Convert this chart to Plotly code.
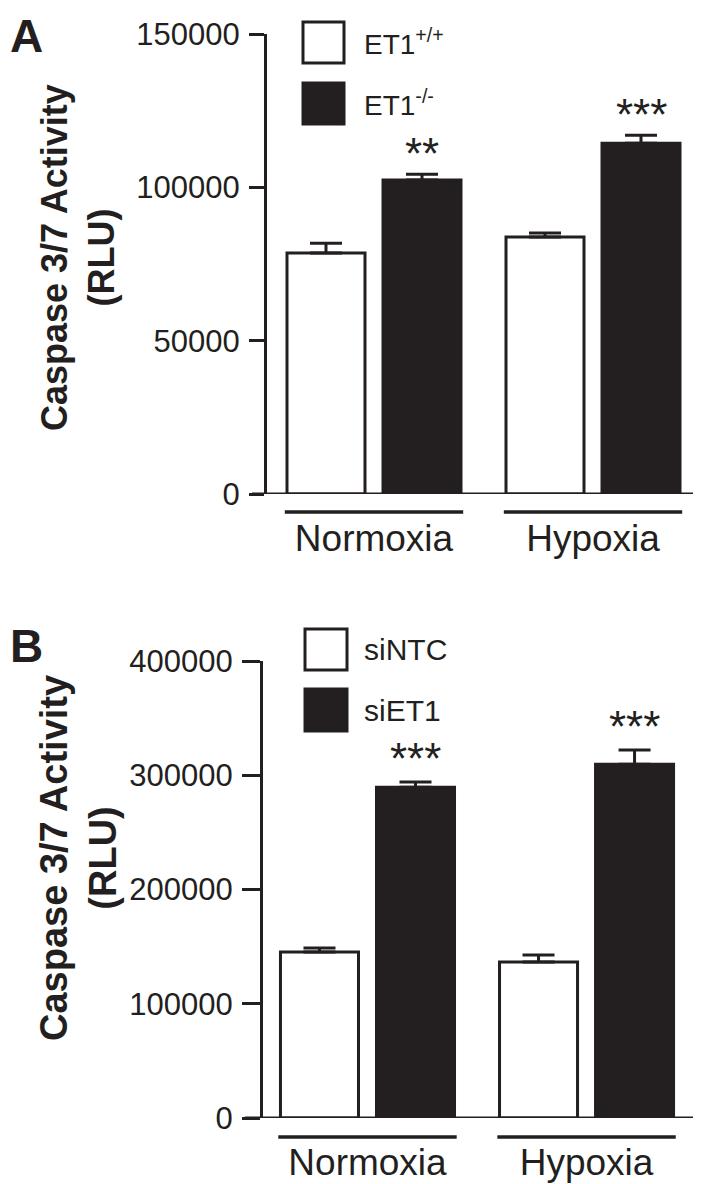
import plotly.graph_objects as go

# ---------------- data ----------------
conditions = ["Normoxia", "Hypoxia"]

# Panel A
a_series = ["ET1<sup>+/+</sup>", "ET1<sup>-/-</sup>"]
a_wt_mean = [78600, 83800]
a_wt_err = [3200, 1300]
a_ko_mean = [102400, 114400]
a_ko_err = [1900, 2600]
a_stars = ["**", "***"]
a_yticks = [0, 50000, 100000, 150000]

# Panel B
b_series = ["siNTC", "siET1"]
b_ntc_mean = [145300, 136500]
b_ntc_err = [3500, 6100]
b_si_mean = [289600, 309700]
b_si_err = [4400, 12300]
b_stars = ["***", "***"]
b_yticks = [0, 100000, 200000, 300000, 400000]

# ---------------- style ----------------
INK = "#231f20"
FONT = "Liberation Sans, Arial, Helvetica, sans-serif"
OFF = 8                      # page body margin of the html page
W, H = 701 - OFF, 1184 - OFF
BARGAP = 0.1233
BARGROUPGAP = 0.1875
SLOT = (1 - BARGAP) / 2


def px(x):
    return (x - OFF) / W


def py(y):
    return 1 - (y - OFF) / H


fig = go.Figure()


def add_panel(xa, ya, means_w, errs_w, means_b, errs_b, names):
    fig.add_trace(go.Bar(
        x=conditions, y=means_w, name=names[0], xaxis=xa, yaxis=ya,
        marker=dict(color="white", line=dict(color=INK, width=3)),
        error_y=dict(type="data", array=errs_w, arrayminus=[0] * len(errs_w),
                     symmetric=False, color=INK, thickness=3, width=16),
        showlegend=False,
    ))
    fig.add_trace(go.Bar(
        x=conditions, y=means_b, name=names[1], xaxis=xa, yaxis=ya,
        marker=dict(color=INK, line=dict(color=INK, width=3)),
        error_y=dict(type="data", array=errs_b, arrayminus=[0] * len(errs_b),
                     symmetric=False, color=INK, thickness=3, width=16),
        showlegend=False,
    ))


add_panel("x", "y", a_wt_mean, a_wt_err, a_ko_mean, a_ko_err, a_series)
add_panel("x2", "y2", b_ntc_mean, b_ntc_err, b_si_mean, b_si_err, b_series)

axis_common = dict(showgrid=False, zeroline=False, automargin=False)

fig.update_layout(
    template="none",
    width=W, height=H,
    margin=dict(l=0, r=0, t=0, b=0, pad=0),
    paper_bgcolor="white", plot_bgcolor="white",
    barmode="group", bargap=BARGAP, bargroupgap=BARGROUPGAP,
    font=dict(family=FONT, color=INK),
    showlegend=False,
    xaxis=dict(domain=[px(267), px(700)], range=[-0.4886, 1.4886], showline=False,
               ticks="", tickfont=dict(size=37, color=INK), ticklabelstandoff=19,
               anchor="y", **axis_common),
    yaxis=dict(domain=[py(494), py(34)], range=[0, 150000], tickvals=a_yticks,
               ticktext=[str(v) for v in a_yticks],
               showline=True, linewidth=3, linecolor=INK, ticks="outside",
               ticklen=15, tickwidth=3, tickcolor=INK, ticklabelstandoff=3,
               tickfont=dict(size=31, color=INK), anchor="x", **axis_common),
    xaxis2=dict(domain=[px(263), px(693)], range=[-0.477, 1.486], showline=False,
                ticks="", tickfont=dict(size=37, color=INK), ticklabelstandoff=19,
                anchor="y2", **axis_common),
    yaxis2=dict(domain=[py(1118), py(661)], range=[0, 400000], tickvals=b_yticks,
                ticktext=[str(v) for v in b_yticks],
                showline=True, linewidth=3, linecolor=INK, ticks="outside",
                ticklen=18, tickwidth=3, tickcolor=INK, ticklabelstandoff=3,
                tickfont=dict(size=31, color=INK), anchor="x2", **axis_common),
)

shapes = []
annotations = []


def panel_decor(xref, yref, x_left_px, x_right_px, means_b, errs_b, stars,
                under_px, legend_names, box_x, box_ys, text_x, legend_size,
                title_y, title_size, letter, letter_top, star_shift):
    # x axis baseline
    shapes.append(dict(type="line", xref="paper", yref=yref,
                       x0=px(x_left_px), x1=px(x_right_px), y0=0, y1=0,
                       line=dict(color=INK, width=3)))
    # group underlines
    half = SLOT * (1 - BARGROUPGAP / 2) + 0.01
    for i, _ in enumerate(conditions):
        shapes.append(dict(type="line", xref=xref, yref="paper",
                           x0=i - half, x1=i + half, y0=py(under_px), y1=py(under_px),
                           line=dict(color=INK, width=3.5)))
    # significance stars
    for i, s in enumerate(stars):
        annotations.append(dict(x=i + SLOT / 2, y=means_b[i] + errs_b[i], xref=xref, yref=yref,
                                text=s, showarrow=False, yanchor="middle", yshift=star_shift,
                                font=dict(size=44, color=INK, family=FONT)))
    # legend (manual, large boxes)
    fills = ["white", INK]
    for name, fill, (y0, y1) in zip(legend_names, fills, box_ys):
        shapes.append(dict(type="rect", xref="paper", yref="paper",
                           x0=px(box_x[0]), x1=px(box_x[1]), y0=py(y1), y1=py(y0),
                           fillcolor=fill, line=dict(color=INK, width=3)))
        annotations.append(dict(x=px(text_x), y=py((y0 + y1) / 2), xref="paper", yref="paper",
                                text=name, showarrow=False, xanchor="left", yanchor="middle",
                                font=dict(size=legend_size, color=INK, family=FONT)))
    # y title
    annotations.append(dict(x=px(78), y=py(title_y), xref="paper", yref="paper",
                            text="<b>Caspase 3/7 Activity</b><br><b>(RLU)</b>", textangle=-90,
                            showarrow=False, xanchor="center", yanchor="middle",
                            font=dict(size=title_size, color=INK, family=FONT)))
    # panel letter
    annotations.append(dict(x=px(OFF), y=py(letter_top), xref="paper", yref="paper",
                            text=f"<b>{letter}</b>", showarrow=False, xanchor="left",
                            yanchor="top", font=dict(size=46, color=INK, family=FONT)))


panel_decor("x", "y", 252, 700, a_ko_mean, a_ko_err, a_stars, 512, a_series,
            (303, 344), [(22, 63), (83, 124)], 362, 28, 258, 36, "A", OFF, 21)
panel_decor("x2", "y2", 245, 693, b_si_mean, b_si_err, b_stars, 1137, b_series,
            (305, 347), [(629, 670), (689, 731)], 362, 30, 858, 38, "B", 618, 24)

fig.update_layout(shapes=shapes, annotations=annotations)

fig.write_html("out.html")
